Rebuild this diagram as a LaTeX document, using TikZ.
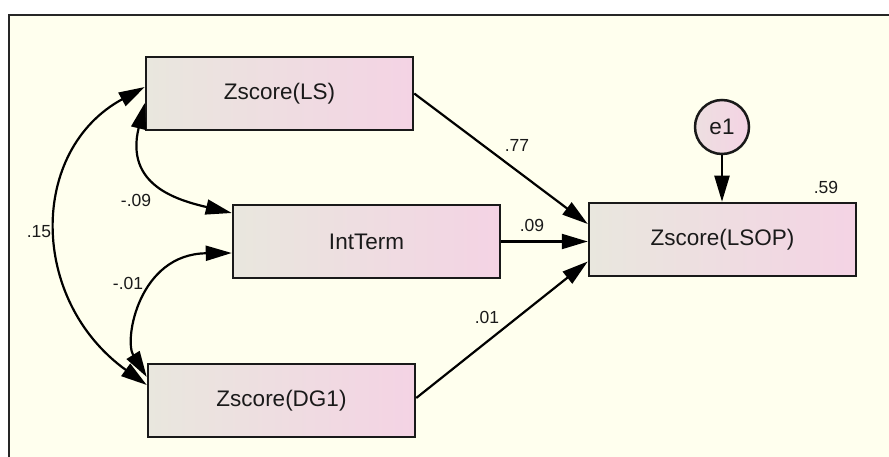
\documentclass[tikz,border=0pt]{standalone}
\usepackage{fontspec}
\setmainfont{Liberation Sans}
\usetikzlibrary{arrows.meta}
\definecolor{bgivory}{HTML}{FFFFEE}
\definecolor{boxL}{HTML}{E9E7DE}
\definecolor{boxR}{HTML}{F4D3E4}
\definecolor{txt}{HTML}{1A1A1A}
\tikzset{
  var/.style={draw=black!90, line width=2.5pt, minimum width=267pt, minimum height=73pt,
    inner sep=0pt, left color=boxL, right color=boxR, text=txt,
    font=\fontsize{22.5}{26}\selectfont},
  errc/.style={circle, draw=black!90, line width=2.5pt, minimum size=54pt, inner sep=0pt,
    left color=boxL!60!boxR, right color=boxR, text=txt, font=\fontsize{22.5}{26}\selectfont},
  path/.style={line width=2.2pt, -{Triangle[length=26pt,width=15pt]}},
  cov/.style={line width=2.2pt, {Triangle[length=26pt,width=15pt]}-{Triangle[length=26pt,width=15pt]}},
  num/.style={text=txt, font=\fontsize{17.5}{20}\selectfont, inner sep=0pt}
}
\begin{document}
\begin{tikzpicture}[x=1pt,y=-1pt]
\useasboundingbox (0,0) rectangle (889,457);
\fill[white] (0,0) rectangle (889,457);
\fill[bgivory] (9,15) rectangle (889,457);
\draw[line width=2.5pt, black!85] (9,457) -- (9,15) -- (889,15);

\node[var] (LS) at (279.5,93.5) {Zscore(LS)};
\node[var] (IT) at (366.5,241.5) {IntTerm};
\node[var] (DG) at (281.5,400.5) {Zscore(DG1)};
\node[var] (LSOP) at (722.5,239.5) {Zscore(LSOP)};
\node[errc] (e1) at (722,127) {e1};

\draw[path] (LS.east) -- ([yshift=15.5pt]LSOP.west);
\draw[path] (IT.east) -- (IT.east -| LSOP.west);
\draw[path] ([yshift=2.5pt]DG.east) -- ([yshift=-22pt]LSOP.west);
\draw[path] (e1.south) -- (e1.south |- LSOP.north);

\draw[cov] ([yshift=6.5pt]LS.west) .. controls +(-116,63) and +(-118,-85) .. ([yshift=15.5pt]DG.west);
\draw[cov] ([yshift=-9.5pt]LS.west) .. controls +(-20,82) and +(-55,-13) .. ([yshift=28.5pt]IT.west);
\draw[cov] ([yshift=-11.5pt]IT.west) .. controls +(-93,1) and +(-23,-37) .. ([yshift=23.5pt]DG.west);

\node[num] (n77) at (517,145) {.77};
\node[num] (n09) at (532,225) {.09};
\node[num] (n01) at (487,317) {.01};
\node[num] (n59) at (826,187) {.59};
\node[num] (n15) at (39,232) {.15};
\node[num] (nm09) at (136,200) {-.09};
\node[num] (nm01) at (128,283) {-.01};
\end{tikzpicture}
\end{document}
